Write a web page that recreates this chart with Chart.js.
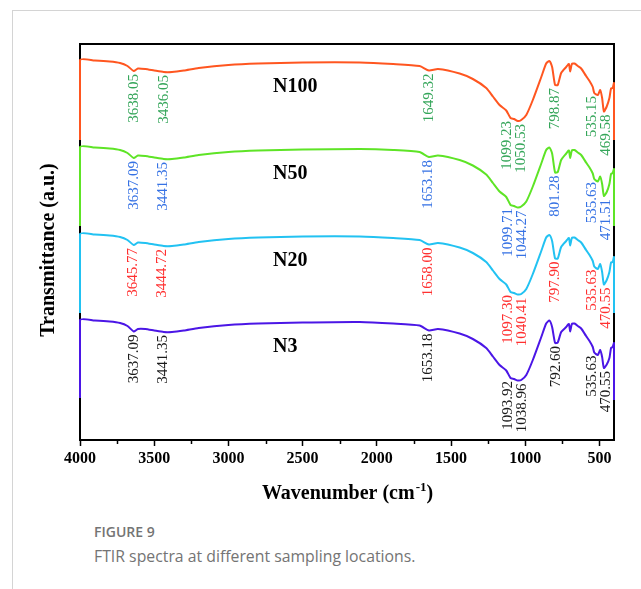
<!DOCTYPE html>
<html>
<head>
<meta charset="utf-8">
<script src="https://cdn.jsdelivr.net/npm/chart.js@4.4.1/dist/chart.umd.min.js"></script>
<style>
  body { margin: 0; background: #fff; }
  #card { position: absolute; left: 12px; top: 10px; width: 629px; height: 579px;
          border-left: 1px solid #d4d4d4; border-top: 1px solid #d4d4d4; }
  #ftirChart { position: absolute; left: 0; top: 0; }
  .caption { position: absolute; left: 94px; font-family: 'Open Sans', sans-serif; color: #747474; white-space: nowrap; }
  #figno { top: 522px; font-size: 14px; font-weight: 600; }
  #figtext { top: 545px; font-size: 15.8px; }
</style>
</head>
<body>
<div id="card"></div>
<canvas id="ftirChart" width="641" height="510"></canvas>
<div class="caption" id="figno">FIGURE 9</div>
<div class="caption" id="figtext">FTIR spectra at different sampling locations.</div>

<script>
// Wavenumbers (cm-1) shared by all four spectra, high to low
const wavenumber = [4000, 4000, 3900, 3800, 3730, 3680, 3638, 3610, 3560, 3500, 3436, 3380, 3300, 3200, 3000, 2800, 2500, 2115, 1890, 1712, 1649, 1588, 1442, 1353, 1263, 1218, 1173, 1128, 1099, 1075, 1050, 1027, 993, 949, 892, 859, 837, 819, 799, 781, 758, 724, 706, 697, 686, 668, 646, 623, 590, 567, 545, 535, 511, 495, 482, 470, 451, 433, 422, 411, 402, 402];

// Transmittance (a.u., stacked with offsets)
const n100 = [300, 380, 379.5, 378.5, 377, 374, 369, 371.5, 371, 369.5, 368, 368, 369.5, 372, 375, 376.5, 377.5, 377.5, 376, 374, 369.5, 371, 366.5, 361, 352, 343.5, 335, 329.5, 322, 321, 319, 320, 325, 340, 363, 376.5, 379, 373, 355, 355, 367, 373, 376, 368.5, 376, 376.5, 374, 371.5, 364, 359, 353, 347, 345, 350, 342, 328.5, 333.5, 342, 351.5, 352, 357, 300];
const n50 = [214, 293, 292.5, 291.5, 290, 287, 282, 284.5, 284, 282.5, 281, 281, 282.5, 285, 288, 289.5, 290.5, 291, 290, 288, 283, 284.5, 280, 274.5, 265.5, 257, 248.5, 243, 235, 234, 232.5, 233.5, 238.5, 253.5, 276.5, 290, 292.5, 286.5, 267.5, 268, 280, 286.5, 289.5, 282, 289.5, 290, 287.5, 285, 277.5, 272.5, 266.5, 261, 258.5, 263.5, 256, 244, 248, 256, 266, 267, 271, 214];
const n20 = [127, 206, 205.5, 204.5, 203, 200, 195, 197.5, 197, 195.5, 194, 194, 195.5, 198, 201, 202.5, 203.5, 203.5, 202, 200, 195.5, 197, 192.5, 187, 178, 169.5, 161, 155.5, 148, 147, 145.5, 146, 151, 166, 189, 202.5, 205, 199, 181.5, 181.5, 193, 199, 202, 194.5, 202, 202.5, 200, 197.5, 190, 185, 179, 173.5, 171, 176, 168, 155.5, 160, 168, 177.5, 178, 183, 127];
const n3 = [42, 120, 119.5, 118.5, 117, 114, 108.5, 111, 111, 109.5, 108, 108, 109.5, 112, 115, 116.5, 117.5, 118, 116.5, 114.5, 109.5, 111, 106.5, 101, 92, 83.5, 75, 69.5, 62, 61, 59.5, 60, 65, 80, 103, 116.5, 119.5, 113, 97, 97.5, 108, 113, 116, 108.5, 116, 116.5, 114, 111.5, 104, 99, 93, 87.5, 85, 90, 83, 72, 75.5, 82, 92, 93, 97, 40];

const seriesNames = ['N100', 'N50', 'N20', 'N3'];

// Peak positions written under each spectrum
const peaksN100 = ['3638.05', '3436.05', '1649.32', '1099.23', '1050.53', '798.87', '535.15', '469.58'];
const peaksN50 = ['3637.09', '3441.35', '1653.18', '1099.71', '1044.27', '801.28', '535.63', '471.51'];
const peaksN20 = ['3645.77', '3444.72', '1658.00', '1097.30', '1040.41', '797.90', '535.63', '470.55'];
const peaksN3 = ['3637.09', '3441.35', '1653.18', '1093.92', '1038.96', '792.60', '535.63', '470.55'];

// labelled ticks on the wavenumber axis, minor ticks sit halfway between
const xTicks = [4000, 3500, 3000, 2500, 2000, 1500, 1000, 500];

const lineColors = ['#ff5620', '#5ee426', '#22c2f2', '#4b16e6'];
const peakColors = ['#35a65a', '#3672e4', '#ff3030', '#1a1a1a'];
const serif = '"Liberation Serif", "Times New Roman", serif';

const spectra = [n100, n50, n20, n3];
const peakSets = [peaksN100, peaksN50, peaksN20, peaksN3];

// box, minor ticks, sample names, peak labels and axis titles
const ftirDecor = {
    id: 'ftirDecor',
    beforeDatasetsDraw(chart) {
        const { ctx, chartArea: a, scales: { x } } = chart;
        ctx.save();
        ctx.strokeStyle = '#000';
        ctx.lineWidth = 2;
        ctx.strokeRect(a.left, a.top, a.right - a.left, a.bottom - a.top);
        ctx.lineWidth = 1.5;
        for (let i = 0; i < xTicks.length - 1; i++) {
            const v = (xTicks[i] + xTicks[i + 1]) / 2;
            const px = Math.round(x.getPixelForValue(v)) + 0.5;
            ctx.beginPath();
            ctx.moveTo(px, a.bottom);
            ctx.lineTo(px, a.bottom + 4);
            ctx.stroke();
        }
        ctx.restore();
    },
    afterDatasetsDraw(chart) {
        const { ctx, scales: { x, y } } = chart;
        chart.data.datasets.forEach((ds, k) => {
            const pts = ds.data;
            ctx.save();
            // sample name
            const ref = pts.find(p => p.x === 2800);
            ctx.font = 'bold 20px ' + serif;
            ctx.fillStyle = '#000';
            ctx.textAlign = 'left';
            ctx.textBaseline = 'middle';
            ctx.fillText(seriesNames[k], x.getPixelForValue(2700), y.getPixelForValue(ref.y) + 23);

            // peak labels hang below the band minimum
            const items = peakSets[k].map(txt => {
                const w = parseFloat(txt);
                const near = pts.filter(p => Math.abs(p.x - w) <= 12);
                const low = Math.min(...near.map(p => p.y));
                return { txt, px: x.getPixelForValue(w), top: y.getPixelForValue(low) + 3 };
            });
            for (let i = 1; i < items.length; i++) {
                if (items[i].px - items[i - 1].px < 14) {
                    const mid = (items[i].px + items[i - 1].px) / 2;
                    items[i - 1].px = mid - 7;
                    items[i].px = mid + 7;
                }
            }
            ctx.font = '15px ' + serif;
            ctx.fillStyle = peakColors[k];
            ctx.textAlign = 'right';
            items.forEach(it => {
                ctx.save();
                ctx.translate(it.px, it.top);
                ctx.rotate(-Math.PI / 2);
                ctx.fillText(it.txt, 0, 0);
                ctx.restore();
            });
            ctx.restore();
        });
    },
    afterDraw(chart) {
        const { ctx, chartArea: a } = chart;
        ctx.save();
        ctx.fillStyle = '#000';
        ctx.font = 'bold 20px ' + serif;
        ctx.textAlign = 'center';
        ctx.textBaseline = 'middle';
        ctx.translate(a.left - 31, 250);
        ctx.rotate(-Math.PI / 2);
        ctx.fillText('Transmittance (a.u.)', 0, 0);
        ctx.restore();

        // Wavenumber (cm^-1)
        ctx.save();
        ctx.fillStyle = '#000';
        ctx.textAlign = 'left';
        ctx.textBaseline = 'alphabetic';
        const main = 'Wavenumber (cm', sup = '-1', tail = ')';
        ctx.font = 'bold 20px ' + serif;
        const w1 = ctx.measureText(main).width;
        const w3 = ctx.measureText(tail).width;
        ctx.font = 'bold 13px ' + serif;
        const w2 = ctx.measureText(sup).width;
        let sx = (a.left + a.right) / 2 - (w1 + w2 + w3) / 2;
        const base = 499;
        ctx.font = 'bold 20px ' + serif;
        ctx.fillText(main, sx, base);
        sx += w1;
        ctx.font = 'bold 13px ' + serif;
        ctx.fillText(sup, sx + 1, base - 8);
        sx += w2 + 1;
        ctx.font = 'bold 20px ' + serif;
        ctx.fillText(tail, sx, base);
        ctx.restore();
    }
};

const config = {
    type: 'line',
    data: {
        datasets: spectra.map((vals, k) => ({
            label: seriesNames[k],
            data: wavenumber.map((w, i) => ({ x: w, y: vals[i] })),
            borderColor: lineColors[k],
            borderWidth: 2,
            pointRadius: 0,
            tension: 0.2,
            fill: false,
            clip: false
        }))
    },
    options: {
        responsive: false,
        animation: false,
        devicePixelRatio: 1,
        layout: { padding: { top: 44, right: 27, left: 0, bottom: 0 } },
        plugins: { legend: { display: false }, tooltip: { enabled: false } },
        scales: {
            x: {
                type: 'linear',
                min: 402,
                max: 4000,
                reverse: true,
                afterBuildTicks(scale) {
                    scale.ticks = xTicks.map(v => ({ value: v }));
                },
                ticks: {
                    autoSkip: false,
                    maxRotation: 0,
                    padding: 3,
                    color: '#000',
                    font: { family: serif, size: 16, weight: 'bold' },
                    callback: v => String(v)
                },
                grid: { drawOnChartArea: false, tickLength: 6, tickColor: '#000', tickWidth: 1.5 },
                border: { display: false },
                afterFit(scale) { scale.height = 70; }
            },
            y: {
                min: 0,
                max: 396,
                ticks: { display: false },
                grid: { display: false },
                border: { display: false },
                afterFit(scale) { scale.width = 80; }
            }
        }
    },
    plugins: [ftirDecor]
};

const ftirChart = new Chart(document.getElementById('ftirChart'), config);
</script>
</body>
</html>
